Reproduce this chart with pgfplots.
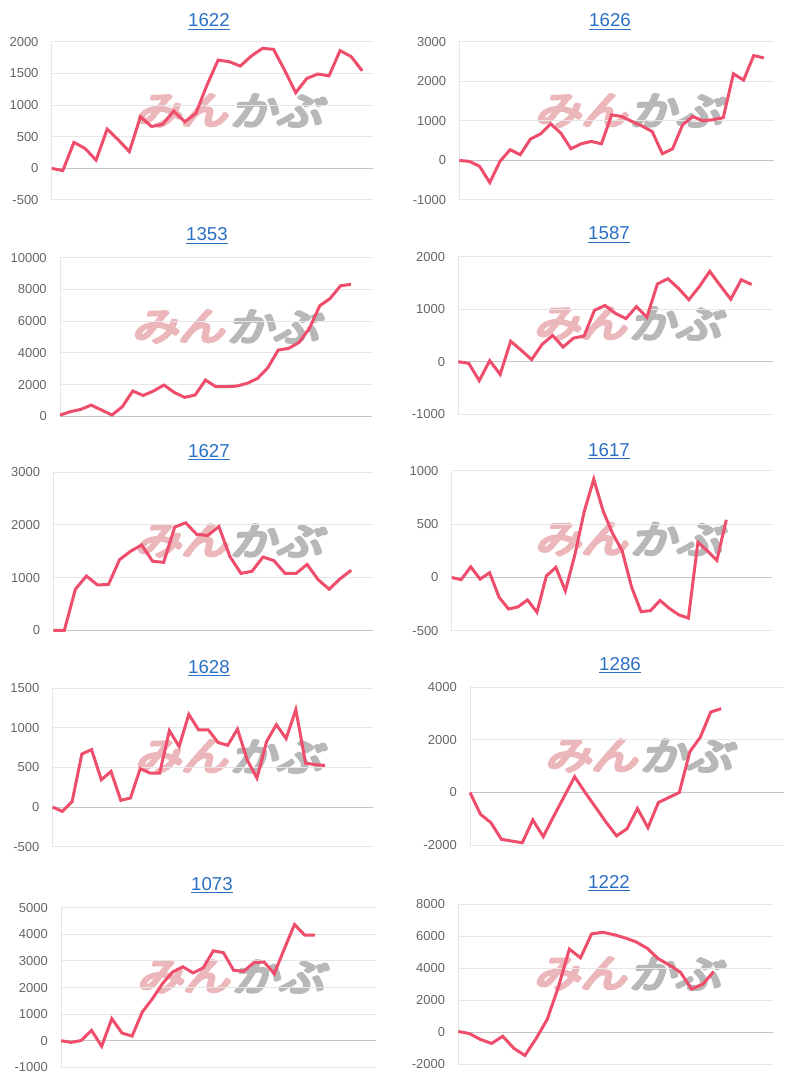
\documentclass[border=0pt]{standalone}
\usepackage{fontspec}
\setmainfont{Liberation Sans}
\newfontfamily\cjk{Noto Sans CJK JP}[FakeSlant=0.22]
\usepackage{pgfplots}
\pgfplotsset{compat=1.18}
\definecolor{linec}{HTML}{EE4D6B}
\definecolor{titlec}{HTML}{2A6FC4}
\definecolor{gridc}{HTML}{E6E6E6}
\definecolor{zeroc}{HTML}{C4C4C4}
\definecolor{labc}{HTML}{666666}
\definecolor{wmpink}{HTML}{EBB7BB}
\definecolor{wmgray}{HTML}{B8B8B8}

\newcommand\heavy[1]{\special{pdf:literal direct 2 Tr 2.2 w 1 j}#1\special{pdf:literal direct 0 Tr 0.4 w 0 j}}
\newcommand\ttl[3]{\node[anchor=base, inner sep=0pt, font=\fontsize{14}{16}\selectfont, text=titlec] at ({#1*0.75pt},{-#2*0.75pt}) {\setbox0\hbox{#3}\rlap{\copy0}\rule[-2pt]{\wd0}{0.75pt}};}
\newcommand\wm[2]{%
  \node[text=wmpink, xscale=1.2, inner sep=0pt] at ({(#1+48)*0.75pt},{-#2*0.75pt}) {\cjk\fontsize{29}{29}\selectfont\heavy{みん}};
  \node[text=wmgray, xscale=1.2, inner sep=0pt] at ({(#1+143)*0.75pt},{-#2*0.75pt}) {\cjk\fontsize{29}{29}\selectfont\heavy{かぶ}};}

\pgfplotsset{panel/.style={
  scale only axis, anchor=north west, xmin=0, clip=false,
  hide x axis, axis y line*=left,
  y axis line style={-, draw=gridc, line width=0.75pt},
  ymajorgrids, grid style={draw=gridc, line width=0.75pt},
  ytick style={draw=none}, major tick length=0pt,
  scaled y ticks=false,
  yticklabel style={font=\fontsize{9.75}{11}\selectfont, text=labc, inner sep=0pt, anchor=east, xshift=-9.75pt},
  extra y ticks={0}, extra y tick labels={},
  extra y tick style={ymajorgrids, grid style={draw=zeroc, line width=0.75pt}},
  every axis plot post/.append style={color=linec, line width=2.25pt, mark=none},
}}

\begin{document}
\begin{tikzpicture}
\path[use as bounding box] (0,0) rectangle (600pt,-810pt);
% watermarks
\wm{133}{110.5}
\wm{533}{110.5}
\wm{130}{326.5}
\wm{532}{323.5}
\wm{133}{540.5}
\wm{533}{539}
\wm{133}{756.5}
\wm{543}{755.5}
\wm{135}{976.5}
\wm{532}{973.5}
% titles
\ttl{209}{27}{1622}
\ttl{610}{27}{1626}
\ttl{207}{241}{1353}
\ttl{609}{240}{1587}
\ttl{209}{457}{1627}
\ttl{609}{456}{1617}
\ttl{209}{673}{1628}
\ttl{620}{670}{1286}
\ttl{212}{890}{1073}
\ttl{609}{888}{1222}

% 1622
\begin{axis}[panel, at={(38.8pt,-31.3pt)}, width=241.2pt, height=118.7pt, xmax=29,
  ymin=-500, ymax=2000, ytick={-500,0,500,1000,1500,2000}, yticklabels={-500,0,500,1000,1500,2000}]
\addplot coordinates {(0,0)(1,-35)(2,410)(3,315)(4,130)(5,620)(6,450)(7,265)(8,815)(9,660)(10,695)(11,905)(12,735)(13,870)(14,1315)(15,1710)(16,1685)(17,1615)(18,1775)(19,1895)(20,1880)(21,1550)(22,1195)(23,1420)(24,1490)(25,1460)(26,1860)(27,1765)(28,1540)};
\end{axis}

% 1626
\begin{axis}[panel, at={(344.5pt,-31.3pt)}, width=236pt, height=118.7pt, xmax=31,
  ymin=-1000, ymax=3000, ytick={-1000,0,1000,2000,3000}, yticklabels={-1000,0,1000,2000,3000}]
\addplot coordinates {(0,0)(1,-25)(2,-150)(3,-560)(4,-25)(5,270)(6,145)(7,540)(8,670)(9,925)(10,690)(11,295)(12,420)(13,480)(14,420)(15,1150)(16,1110)(17,985)(18,870)(19,730)(20,170)(21,290)(22,900)(23,1110)(24,1000)(25,1030)(26,1080)(27,2190)(28,2030)(29,2650)(30,2590)};
\end{axis}

% 1353
\begin{axis}[panel, at={(45pt,-193.3pt)}, width=233.8pt, height=119pt, xmax=30,
  ymin=0, ymax=10000, ytick={0,2000,4000,6000,8000,10000}, yticklabels={0,2000,4000,6000,8000,10000}]
\addplot coordinates {(0,80)(1,300)(2,440)(3,715)(4,400)(5,85)(6,610)(7,1600)(8,1320)(9,1600)(10,1975)(11,1510)(12,1200)(13,1345)(14,2290)(15,1870)(16,1870)(17,1910)(18,2080)(19,2390)(20,3065)(21,4180)(22,4285)(23,4660)(24,5545)(25,6975)(26,7435)(27,8235)(28,8320)};
\end{axis}

% 1587
\begin{axis}[panel, at={(343.7pt,-192.5pt)}, width=235.8pt, height=118.2pt, xmax=30,
  ymin=-1000, ymax=2000, ytick={-1000,0,1000,2000}, yticklabels={-1000,0,1000,2000}]
\addplot coordinates {(0,0)(1,-30)(2,-360)(3,20)(4,-240)(5,390)(6,220)(7,40)(8,330)(9,500)(10,280)(11,450)(12,490)(13,980)(14,1070)(15,920)(16,820)(17,1050)(18,850)(19,1480)(20,1580)(21,1400)(22,1180)(23,1430)(24,1720)(25,1450)(26,1190)(27,1560)(28,1470)};
\end{axis}

% 1627
\begin{axis}[panel, at={(40pt,-354.2pt)}, width=240pt, height=118.5pt, xmax=29,
  ymin=0, ymax=3000, ytick={0,1000,2000,3000}, yticklabels={0,1000,2000,3000}]
\addplot coordinates {(0,0)(1,0)(2,780)(3,1030)(4,860)(5,870)(6,1340)(7,1500)(8,1620)(9,1310)(10,1290)(11,1960)(12,2040)(13,1820)(14,1800)(15,1970)(16,1400)(17,1080)(18,1120)(19,1390)(20,1320)(21,1080)(22,1080)(23,1250)(24,960)(25,780)(26,980)(27,1140)};
\end{axis}

% 1617
\begin{axis}[panel, at={(338.8pt,-353pt)}, width=240pt, height=120.2pt, xmax=33.8,
  ymin=-500, ymax=1000, ytick={-500,0,500,1000}, yticklabels={-500,0,500,1000}]
\addplot coordinates {(0,0)(1,-20)(2,100)(3,-15)(4,45)(5,-185)(6,-295)(7,-275)(8,-210)(9,-325)(10,15)(11,95)(12,-125)(13,210)(14,620)(15,920)(16,620)(17,410)(18,250)(19,-90)(20,-320)(21,-310)(22,-215)(23,-290)(24,-350)(25,-380)(26,330)(27,250)(28,160)(29,540)};
\end{axis}

% 1628
\begin{axis}[panel, at={(39.5pt,-516.2pt)}, width=240pt, height=118.8pt, xmax=32.9,
  ymin=-500, ymax=1500, ytick={-500,0,500,1000,1500}, yticklabels={-500,0,500,1000,1500}]
\addplot coordinates {(0,0)(1,-55)(2,70)(3,670)(4,725)(5,345)(6,450)(7,85)(8,115)(9,485)(10,430)(11,430)(12,965)(13,765)(14,1170)(15,975)(16,975)(17,815)(18,780)(19,985)(20,595)(21,365)(22,830)(23,1040)(24,865)(25,1230)(26,555)(27,535)(28,525)};
\end{axis}

% 1286
\begin{axis}[panel, at={(352.5pt,-515.5pt)}, width=235.5pt, height=118.3pt, xmax=30,
  ymin=-2000, ymax=4000, ytick={-2000,0,2000,4000}, yticklabels={-2000,0,2000,4000}]
\addplot coordinates {(0,0)(1,-830)(2,-1150)(3,-1780)(4,-1850)(5,-1910)(6,-1045)(7,-1680)(8,-900)(9,-150)(10,600)(11,0)(12,-560)(13,-1130)(14,-1650)(15,-1380)(16,-610)(17,-1340)(18,-380)(19,-190)(20,0)(21,1550)(22,2100)(23,3060)(24,3190)};
\end{axis}

% 1073
\begin{axis}[panel, at={(45.8pt,-680.8pt)}, width=236pt, height=119.7pt, xmax=31,
  ymin=-1000, ymax=5000, ytick={-1000,0,1000,2000,3000,4000,5000}, yticklabels={-1000,0,1000,2000,3000,4000,5000}]
\addplot coordinates {(0,0)(1,-60)(2,10)(3,390)(4,-210)(5,830)(6,290)(7,175)(8,1080)(9,1580)(10,2150)(11,2590)(12,2780)(13,2550)(14,2740)(15,3380)(16,3310)(17,2650)(18,2610)(19,2940)(20,2960)(21,2520)(22,3460)(23,4370)(24,3970)(25,3970)};
\end{axis}

% 1222
\begin{axis}[panel, at={(343.7pt,-678.2pt)}, width=235.8pt, height=120pt, xmax=28.3,
  ymin=-2000, ymax=8000, ytick={-2000,0,2000,4000,6000,8000}, yticklabels={-2000,0,2000,4000,6000,8000}]
\addplot coordinates {(0,50)(1,-80)(2,-450)(3,-700)(4,-250)(5,-1000)(6,-1450)(7,-400)(8,800)(9,2800)(10,5200)(11,4650)(12,6150)(13,6250)(14,6100)(15,5900)(16,5650)(17,5250)(18,4600)(19,4200)(20,3750)(21,2700)(22,3000)(23,3800)};
\end{axis}
\end{tikzpicture}
\end{document}
